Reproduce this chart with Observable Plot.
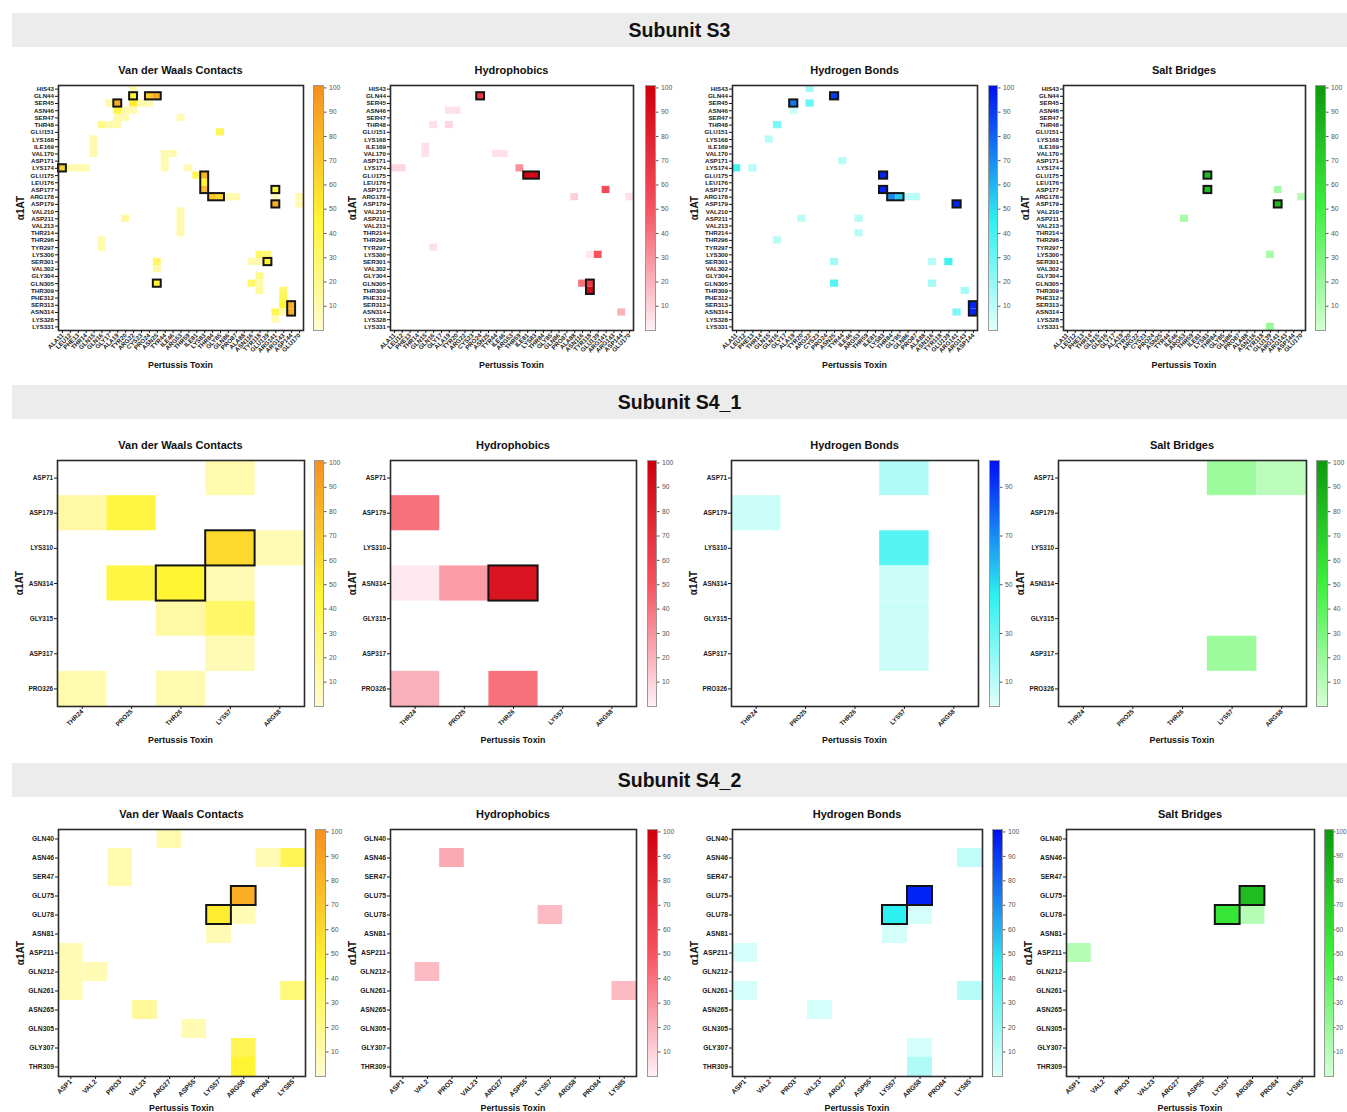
<!DOCTYPE html>
<html><head><meta charset="utf-8">
<script src="https://cdn.jsdelivr.net/npm/d3@7"></script>
<script src="https://cdn.jsdelivr.net/npm/@observablehq/plot@0.6"></script>
<style>
body{margin:0;background:#fff;font-family:"Liberation Sans",Arial,sans-serif;}
#root{position:relative;width:1347px;height:1112px;overflow:hidden;background:#fff;}
.band{position:absolute;left:12px;width:1335px;height:34px;background:#ececec;display:flex;align-items:center;justify-content:center;font-weight:bold;font-size:19.5px;color:#111;}
.ttl{position:absolute;font-weight:bold;font-size:11px;transform:translate(-50%,-50%);white-space:nowrap;color:#111;}
.xt{position:absolute;font-weight:bold;font-size:8.8px;transform:translate(-50%,-50%);white-space:nowrap;color:#111;}
.yt{position:absolute;font-weight:bold;font-size:10px;transform:translate(-50%,-50%) rotate(-90deg);white-space:nowrap;color:#111;}
.pl{position:absolute;}
</style>
</head><body><div id="root"></div>
<script>
// ---------- categories ----------
const sections = ["Subunit S3", "Subunit S4_1", "Subunit S4_2"];
const panelTitles = ["Van der Waals Contacts", "Hydrophobics", "Hydrogen Bonds", "Salt Bridges"];
const xAxisTitle = "Pertussis Toxin";
const yAxisTitle = "\u03B11AT";

const s3Rows = ["HIS43","GLN44","SER45","ASN46","SER47","THR48","GLU151","LYS168","ILE169","VAL170","ASP171","LYS174","GLU175","LEU176","ASP177","ARG178","ASP179","VAL210","ASP211","VAL213","THR214","THR296","TYR297","LYS300","SER301","VAL302","GLY304","GLN305","THR309","PHE312","SER313","ASN314","LYS328","LYS331"];
const s3Cols = ["ALA11","LEU12","PHE13","THR14","GLN15","GLN16","GLY17","ALA19","TYR20","ARG22","CYS23","PRO24","ASN25","TYR44","ILE46","ARG53","THR59","ILE81","LYS83","THR84","GLY85","GLN86","PRO87","ALA88","ASN116","TYR118","GLU139","ARG141","ARG143","ASP144","GLU170"];
const s3HbCols = ["ALA11","LEU12","PHE13","THR14","GLN15","GLN16","GLY17","ALA19","TYR20","ARG22","CYS23","PRO24","ASN25","TYR44","ILE46","ARG53","THR59","ILE81","LYS83","THR84","GLY85","GLN86","PRO87","ALA88","ASN116","TYR118","GLU139","ARG141","ARG143","ASP144"];

const s41Rows = ["ASP71","ASP179","LYS310","ASN314","GLY315","ASP317","PRO326"];
const s41Cols = ["THR24","PRO25","THR26","LYS57","ARG58"];

const s42Rows = ["GLN40","ASN46","SER47","GLU75","GLU78","ASN81","ASP211","GLN212","GLN261","ASN265","GLN305","GLY307","THR309"];
const s42Cols = ["ASP1","VAL2","PRO3","VAL23","ARG27","ASP55","LYS57","ARG58","PRO84","LYS85"];

const cbTicks = [10,20,30,40,50,60,70,80,90,100];
const cbTicksOdd = [10,30,50,70,90];

// ---------- values: [α1AT residue, toxin residue, % occupancy] ----------
const s3Vdw = [
 ["HIS43","ARG22",10],
 ["GLN44","ARG22",45],["GLN44","PRO24",70],["GLN44","ASN25",85],
 ["SER45","GLY17",10],["SER45","ALA19",85],["SER45","ARG22",50],["SER45","CYS23",10],["SER45","PRO24",10],
 ["ASN46","ALA19",40],["ASN46","TYR20",10],["ASN46","ARG22",10],
 ["SER47","ALA19",10],["SER47","TYR20",10],["SER47","ARG53",8],
 ["THR48","GLN16",20],["THR48","GLY17",10],["THR48","ALA19",10],
 ["GLU151","GLY85",35],
 ["LYS168","GLN15",10],["ILE169","GLN15",10],
 ["VAL170","GLN15",10],["VAL170","TYR44",10],["VAL170","ILE46",10],
 ["ASP171","TYR44",10],
 ["LYS174","ALA11",65],["LYS174","LEU12",10],["LYS174","PHE13",10],["LYS174","THR14",10],["LYS174","TYR44",10],["LYS174","THR59",10],
 ["GLU175","ILE81",35],["GLU175","LYS83",80],
 ["LEU176","LYS83",45],
 ["ASP177","LYS83",75],["ASP177","ARG141",40],
 ["ARG178","THR84",70],["ARG178","GLY85",62],["ARG178","GLN86",10],["ARG178","PRO87",10],["ARG178","ARG141",5],["ARG178","GLU170",10],
 ["ASP179","ARG141",85],["ASP179","GLU170",8],
 ["VAL210","ARG53",10],["ASP211","TYR20",15],["ASP211","ARG53",10],["VAL213","ARG53",10],["THR214","ARG53",10],
 ["THR296","GLN16",10],["TYR297","GLN16",10],
 ["LYS300","TYR118",30],["LYS300","GLU139",25],
 ["SER301","ASN25",30],["SER301","ASN116",10],["SER301","TYR118",10],["SER301","GLU139",45],
 ["VAL302","ASN25",12],
 ["GLY304","TYR118",20],
 ["GLN305","ASN25",45],["GLN305","ASN116",30],["GLN305","TYR118",10],
 ["THR309","TYR118",15],["THR309","ARG143",30],
 ["PHE312","ARG143",35],
 ["SER313","ARG143",45],["SER313","ASP144",85],
 ["ASN314","ARG141",35],["ASN314","ARG143",10],["ASN314","ASP144",85],
 ["LYS328","ARG141",8]
];
const s3VdwBoxes = [["GLN44","GLN44","ARG22","ARG22"],["GLN44","GLN44","PRO24","ASN25"],["SER45","SER45","ALA19","ALA19"],["LYS174","LYS174","ALA11","ALA11"],["GLU175","ASP177","LYS83","LYS83"],["ARG178","ARG178","THR84","GLY85"],["ASP177","ASP177","ARG141","ARG141"],["ASP179","ASP179","ARG141","ARG141"],["SER301","SER301","GLU139","GLU139"],["GLN305","GLN305","ASN25","ASN25"],["SER313","ASN314","ASP144","ASP144"]];

const s3Hyd = [
 ["GLN44","PRO24",65],
 ["ASN46","ALA19",5],["ASN46","TYR20",5],
 ["THR48","GLN16",5],["THR48","ALA19",8],
 ["ILE169","GLN15",5],["VAL170","GLN15",5],["VAL170","TYR44",5],["VAL170","ILE46",5],
 ["LYS174","ALA11",8],["LYS174","LEU12",8],["LYS174","THR59",30],
 ["GLU175","ILE81",95],["GLU175","LYS83",95],
 ["ASP177","ARG141",55],
 ["ARG178","ALA88",10],["ARG178","GLU170",5],
 ["TYR297","GLN16",5],
 ["LYS300","TYR118",3],["LYS300","GLU139",50],
 ["GLN305","ASN116",40],["GLN305","TYR118",65],
 ["THR309","TYR118",95],
 ["ASN314","ASP144",20]
];
const s3HydBoxes = [["GLN44","GLN44","PRO24","PRO24"],["GLU175","GLU175","ILE81","LYS83"],["GLN305","THR309","TYR118","TYR118"]];

const s3Hb = [
 ["HIS43","ARG22",15],
 ["GLN44","ASN25",90],
 ["SER45","ALA19",75],["SER45","ARG22",30],
 ["ASN46","ALA19",5],
 ["THR48","GLN16",25],
 ["LYS168","GLN15",10],
 ["ASP171","TYR44",10],
 ["LYS174","ALA11",40],["LYS174","PHE13",10],
 ["GLU175","LYS83",95],
 ["ASP177","LYS83",95],
 ["ARG178","THR84",70],["ARG178","GLY85",55],["ARG178","GLN86",10],["ARG178","PRO87",10],
 ["ASP179","ARG141",95],
 ["ASP211","TYR20",10],["ASP211","ARG53",10],
 ["THR214","ARG53",10],
 ["THR296","GLN16",10],
 ["SER301","ASN25",15],["SER301","ASN116",10],["SER301","GLU139",40],
 ["GLN305","ASN25",35],["GLN305","ASN116",15],
 ["THR309","ARG143",15],
 ["SER313","ASP144",95],
 ["ASN314","ARG141",25],["ASN314","ASP144",95]
];
const s3HbBoxes = [["GLN44","GLN44","ASN25","ASN25"],["SER45","SER45","ALA19","ALA19"],["GLU175","GLU175","LYS83","LYS83"],["ASP177","ASP177","LYS83","LYS83"],["ARG178","ARG178","THR84","GLY85"],["ASP179","ASP179","ARG141","ARG141"],["SER313","ASN314","ASP144","ASP144"]];

const s3Salt = [
 ["GLU175","LYS83",80],
 ["ASP177","LYS83",80],["ASP177","ARG141",15],
 ["ARG178","GLU170",10],
 ["ASP179","ARG141",80],
 ["ASP211","ARG53",15],
 ["LYS300","GLU139",15],
 ["LYS331","GLU139",20]
];
const s3SaltBoxes = [["GLU175","GLU175","LYS83","LYS83"],["ASP177","ASP177","LYS83","LYS83"],["ASP179","ASP179","ARG141","ARG141"]];

const s41Vdw = [
 ["ASP71","LYS57",10],
 ["ASP179","THR24",12],["ASP179","PRO25",40],
 ["LYS310","LYS57",60],["LYS310","ARG58",8],
 ["ASN314","PRO25",40],["ASN314","THR26",45],["ASN314","LYS57",8],
 ["GLY315","THR26",12],["GLY315","LYS57",30],
 ["ASP317","LYS57",8],
 ["PRO326","THR24",10],["PRO326","THR26",10]
];
const s41VdwBoxes = [["LYS310","LYS310","LYS57","LYS57"],["ASN314","ASN314","THR26","THR26"]];
const s41Hyd = [
 ["ASP179","THR24",40],
 ["ASN314","THR24",3],["ASN314","PRO25",27],["ASN314","THR26",88],
 ["PRO326","THR24",20],["PRO326","THR26",40]
];
const s41HydBoxes = [["ASN314","ASN314","THR26","THR26"]];
const s41Hb = [
 ["ASP71","LYS57",12],
 ["ASP179","THR24",5],
 ["LYS310","LYS57",35],
 ["ASN314","LYS57",5],
 ["GLY315","LYS57",5],
 ["ASP317","LYS57",5]
];
const s41HbBoxes = [];
const s41Salt = [
 ["ASP71","LYS57",18],["ASP71","ARG58",8],
 ["ASP317","LYS57",18]
];
const s41SaltBoxes = [];

const s42Vdw = [
 ["GLN40","ARG27",10],
 ["ASN46","PRO3",10],["ASN46","PRO84",8],["ASN46","LYS85",35],
 ["SER47","PRO3",10],
 ["GLU75","ARG58",85],
 ["GLU78","LYS57",50],["GLU78","ARG58",8],
 ["ASN81","LYS57",8],
 ["ASP211","ASP1",8],
 ["GLN212","ASP1",8],["GLN212","VAL2",8],
 ["GLN261","ASP1",8],["GLN261","LYS85",25],
 ["ASN265","VAL23",15],
 ["GLN305","ASP55",8],
 ["GLY307","ARG58",35],
 ["THR309","ARG58",45]
];
const s42VdwBoxes = [["GLU75","GLU75","ARG58","ARG58"],["GLU78","GLU78","LYS57","LYS57"]];
const s42Hyd = [
 ["ASN46","PRO3",22],
 ["GLU78","LYS57",17],
 ["GLN212","VAL2",17],
 ["GLN261","LYS85",17]
];
const s42HydBoxes = [];
const s42Hb = [
 ["ASN46","LYS85",8],
 ["GLU75","ARG58",95],
 ["GLU78","LYS57",45],["GLU78","ARG58",3],
 ["ASN81","LYS57",3],
 ["ASP211","ASP1",3],
 ["GLN261","ASP1",3],["GLN261","LYS85",10],
 ["ASN265","VAL23",3],
 ["GLY307","ARG58",3],
 ["THR309","ARG58",12]
];
const s42HbBoxes = [["GLU75","GLU75","ARG58","ARG58"],["GLU78","GLU78","LYS57","LYS57"]];
const s42Salt = [
 ["GLU75","ARG58",80],
 ["GLU78","LYS57",55],["GLU78","ARG58",10],
 ["ASP211","ASP1",10]
];
const s42SaltBoxes = [["GLU75","GLU75","ARG58","ARG58"],["GLU78","GLU78","LYS57","LYS57"]];

// ---------- colour ramps ----------
const rampVdw = {domain:[0,45,100], range:["#fffbd0","#fff533","#f7901e"]};
const rampHyd = {domain:[0,50,100], range:["#fff0f7","#f5525f","#cf000c"]};
const rampHb  = {domain:[0,45,100], range:["#dffffa","#2ef0f0","#0010f5"]};
const rampSalt= {domain:[0,50,100], range:["#d3ffd3","#3cf03c","#0e9a0e"]};

// ---------- layout ----------
const FONT = "'Liberation Sans', Arial, Helvetica, sans-serif";
const root = document.getElementById("root");
function div(cls, text, x, y){ const d=document.createElement("div"); d.className=cls; d.textContent=text; d.style.left=x+"px"; d.style.top=y+"px"; root.appendChild(d); return d; }

function heat(cfg){
  const {rows, cols, cells, boxes, ramp, L, R, T, B, cbL, cbR, fs} = cfg;
  const mL=50, mR=4, mT=4, mB=50;
  const ri = r => rows.indexOf(r), ci = c => cols.indexOf(c);
  const color = {type:"linear", domain:ramp.domain, range:ramp.range, clamp:true};
  const p = Plot.plot({
    width: R-L+mL+mR, height: B-T+mT+mB,
    marginLeft:mL, marginRight:mR, marginTop:mT, marginBottom:mB,
    style:{background:"transparent", fontFamily:FONT, color:"#1a1a1a", overflow:"visible"},
    x:{domain:[0, cols.length]},
    y:{domain:[0, rows.length], reverse:true},
    color,
    marks:[
      Plot.rect(cells, {x1:d=>ci(d[1]), x2:d=>ci(d[1])+1, y1:d=>ri(d[0]), y2:d=>ri(d[0])+1, fill:d=>d[2]}),
      Plot.rect(boxes, {x1:d=>ci(d[2]), x2:d=>ci(d[3])+1, y1:d=>ri(d[0]), y2:d=>ri(d[1])+1, fill:"none", stroke:"#141414", strokeWidth:2}),
      Plot.frame({stroke:"#2a2a2a", strokeWidth:1.6}),
      Plot.axisY(rows.map((r,i)=>i+0.5), {tickFormat:d=>rows[Math.floor(d)], tickSize:3, tickPadding:1.5, fontSize:fs, fontWeight:"bold", label:null}),
      Plot.axisX(cols.map((c,i)=>i+0.5), {tickFormat:d=>cols[Math.floor(d)], tickRotate:-45, tickSize:3, tickPadding:1, fontSize:fs, fontWeight:"bold", label:null})
    ]
  });
  p.classList.add("pl"); p.style.left=(L-mL)+"px"; p.style.top=(T-mT)+"px";
  root.appendChild(p);

  const steps = d3.range(0, 101, 0.5);
  const cb = Plot.plot({
    width: cbR-cbL+26, height: B-T+8,
    marginLeft:0, marginRight:26, marginTop:4, marginBottom:4,
    style:{background:"transparent", fontFamily:FONT, overflow:"visible"},
    x:{domain:[0,1], axis:null}, y:{domain:[0,101]},
    color,
    marks:[
      Plot.rect(steps, {x1:()=>0, x2:()=>1, y1:d=>d, y2:d=>d+0.5, fill:d=>d, shapeRendering:"crispEdges"}),
      Plot.frame({stroke:"#999", strokeWidth:1}),
      Plot.axisY(cfg.ticks || cbTicks, {anchor:"right", tickSize:cfg.tight ? 1.5 : 2.5, tickPadding:cfg.tight ? 1 : 3, fontSize:cfg.tight ? 6.4 : 6.8, color:"#555", label:null})
    ]
  });
  cb.classList.add("pl"); cb.style.left=cbL+"px"; cb.style.top=(T-4)+"px";
  root.appendChild(cb);

  const cx = (L+R)/2;
  div("ttl", cfg.title, cx, cfg.titleY);
  div("xt", xAxisTitle, cx, cfg.xTitleY);
  div("yt", yAxisTitle, L-38, (T+B)/2);
}

// section bands
[[sections[0],13],[sections[1],385],[sections[2],763]].forEach(([t,y])=>{
  const d=document.createElement("div"); d.className="band"; d.style.top=y+"px"; d.textContent=t; root.appendChild(d);
});

// Row 1 : S3
const r1 = {T:85, B:330, titleY:70, xTitleY:365, fs:6.2};
heat({...r1, rows:s3Rows, cols:s3Cols, cells:s3Vdw, boxes:s3VdwBoxes, ramp:rampVdw, L:58, R:303, cbL:313, cbR:323, title:panelTitles[0]});
heat({...r1, rows:s3Rows, cols:s3Cols, cells:s3Hyd, boxes:s3HydBoxes, ramp:rampHyd, L:390, R:633, cbL:645, cbR:655, title:panelTitles[1]});
heat({...r1, rows:s3Rows, cols:s3HbCols, cells:s3Hb, boxes:s3HbBoxes, ramp:rampHb, L:732, R:977, cbL:988, cbR:997, title:panelTitles[2]});
heat({...r1, rows:s3Rows, cols:s3Cols, cells:s3Salt, boxes:s3SaltBoxes, ramp:rampSalt, L:1063, R:1305, cbL:1315, cbR:1325, title:panelTitles[3]});

// Row 2 : S4_1
const r2 = {T:460, B:706, titleY:445, xTitleY:740, fs:6.4};
heat({...r2, rows:s41Rows, cols:s41Cols, cells:s41Vdw, boxes:s41VdwBoxes, ramp:rampVdw, L:57, R:304, cbL:314, cbR:323, title:panelTitles[0]});
heat({...r2, rows:s41Rows, cols:s41Cols, cells:s41Hyd, boxes:s41HydBoxes, ramp:rampHyd, L:390, R:636, cbL:647, cbR:656, title:panelTitles[1]});
heat({...r2, rows:s41Rows, cols:s41Cols, cells:s41Hb, boxes:s41HbBoxes, ramp:rampHb, L:731, R:978, cbL:989, cbR:999, title:panelTitles[2], ticks:cbTicksOdd});
heat({...r2, rows:s41Rows, cols:s41Cols, cells:s41Salt, boxes:s41SaltBoxes, ramp:rampSalt, L:1058, R:1306, cbL:1316, cbR:1327, title:panelTitles[3]});

// Row 3 : S4_2
const r3 = {T:829, B:1076, titleY:814, xTitleY:1108, fs:6.8};
heat({...r3, rows:s42Rows, cols:s42Cols, cells:s42Vdw, boxes:s42VdwBoxes, ramp:rampVdw, L:58, R:305, cbL:315, cbR:325, title:panelTitles[0]});
heat({...r3, rows:s42Rows, cols:s42Cols, cells:s42Hyd, boxes:s42HydBoxes, ramp:rampHyd, L:390, R:636, cbL:647, cbR:657, title:panelTitles[1]});
heat({...r3, rows:s42Rows, cols:s42Cols, cells:s42Hb, boxes:s42HbBoxes, ramp:rampHb, L:732, R:982, cbL:992, cbR:1002, title:panelTitles[2]});
heat({...r3, rows:s42Rows, cols:s42Cols, cells:s42Salt, boxes:s42SaltBoxes, ramp:rampSalt, L:1066, R:1314, cbL:1324, cbR:1333, title:panelTitles[3], tight:true});
</script>
</body></html>
